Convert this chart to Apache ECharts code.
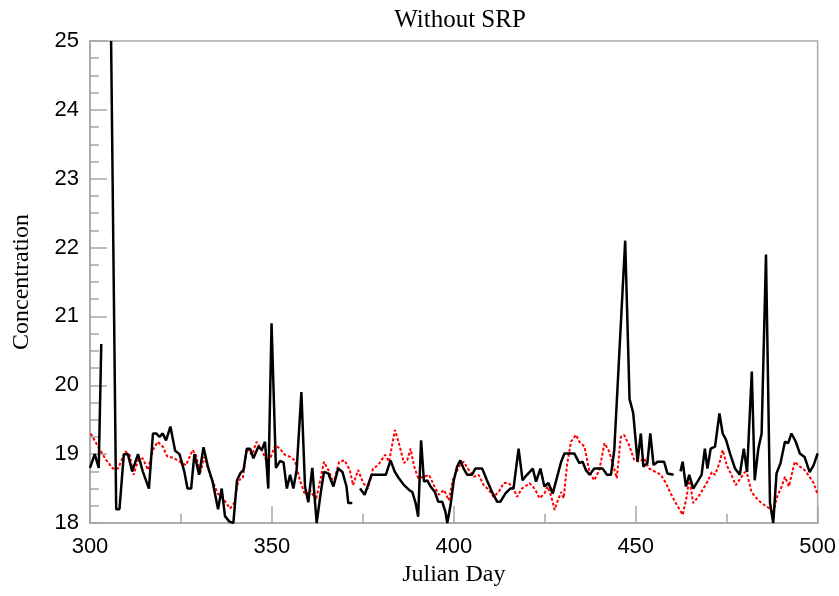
<!DOCTYPE html>
<html>
<head>
<meta charset="utf-8">
<script src="https://cdn.jsdelivr.net/npm/echarts@6/dist/echarts.min.js"></script>
<style>html,body{margin:0;padding:0;background:#fff}#c{width:839px;height:596px}</style>
</head>
<body>
<div id="c"></div>
<script>
const xTicks = [300, 350, 400, 450, 500];
const yTicks = [18, 19, 20, 21, 22, 23, 24, 25];

const blackDays = [300,301.3,302.4,303.1,304,305.8,307.2,308.1,309.3,310.4,311.6,313.2,314.5,316.2,317.3,318.2,319.1,320,320.9,322.1,323.4,324.6,325.9,326.8,327.8,328.7,330.0,331.2,332.5,333.7,335.2,336.2,337.1,338.3,339.4,340.4,341.3,342.2,343.1,344,344.9,346.3,347.2,348.1,349.0,349.9,351.1,352.2,353.2,354.1,355,355.9,356.8,358.1,359.1,360,361.1,362.3,363.4,364.3,365.5,366.9,368.2,369.4,370.5,371,372.1,373,374.2,375.5,377.4,381.3,382.6,383.8,384.9,386.3,387.7,388.6,389.5,390.2,391.0,391.8,392.7,393.6,394.8,395.7,396.8,397.7,398.2,399.1,400,400.9,401.8,402.7,403.7,405,405.9,407.8,409.1,410.5,411.9,412.8,414.2,415.5,416.4,417.8,418.9,420.1,420.8,421.7,422.6,423.8,424.9,426,427.2,428.4,429.5,430.4,433.1,434.5,435.4,436.3,437.3,438.6,440.9,442.1,443.2,444.1,447.1,448.3,449.3,450.5,451.4,452.1,453.2,454,454.9,456,457.8,458.7,460.4,461.3,462.3,462.9,463.8,464.7,465.8,467.2,468.1,469.0,469.7,470.6,471.8,473,473.9,474.8,475.9,477.3,478.6,479.7,480.6,481.9,482.7,483.7,484.6,485.8,486.9,487.8,488.7,489.8,491,491.9,492.8,494,495.1,496.4,497.8,498.9,500];
const blackVals = [18.8,19.0,18.8,20.6,null,25.0,18.2,18.2,19.0,19.0,18.75,19.0,18.75,18.5,19.3,19.3,19.25,19.3,19.2,19.4,19.05,19.0,18.75,18.5,18.5,19.0,18.7,19.1,18.8,18.6,18.2,18.5,18.1,18.02,18.0,18.62,18.72,18.77,19.08,19.08,18.94,19.11,19.06,19.18,18.5,20.9,18.8,18.9,18.88,18.5,18.7,18.5,18.77,19.9,18.53,18.3,18.8,18.0,18.43,18.74,18.72,18.53,18.79,18.74,18.53,18.29,18.29,null,18.5,18.41,18.7,18.7,18.91,18.74,18.65,18.55,18.48,18.45,18.29,18.09,19.2,18.6,18.62,18.53,18.45,18.31,18.31,18.16,18.0,18.26,18.62,18.82,18.91,18.79,18.7,18.7,18.79,18.79,18.62,18.45,18.31,18.31,18.43,18.5,18.5,19.08,18.62,18.7,18.74,18.79,18.6,18.79,18.53,18.58,18.43,18.67,18.89,19.01,19.01,18.87,18.89,18.77,18.7,18.79,18.79,18.7,18.7,19.06,22.1,19.8,19.6,18.89,19.3,18.82,18.87,19.3,18.84,18.89,18.89,18.72,18.7,null,18.75,18.89,18.53,18.7,18.5,18.62,18.7,19.08,18.79,19.08,19.11,19.59,19.3,19.21,19.01,18.79,18.7,19.08,18.74,20.2,18.62,19.08,19.3,21.9,18.29,18.0,18.72,18.87,19.18,19.16,19.3,19.18,19.01,18.96,18.74,18.84,19.01];

const redDays = [300.2,302.2,304.5,306.3,307.7,309.7,310.9,312,313.2,314.5,315.9,317.3,318.6,320,321.2,323.2,324.6,326.4,328.2,329.1,330.3,331.4,333.2,335.1,336.9,338.5,339.6,340.8,342,343.1,344.5,345.8,347.2,348.6,349.7,350.9,352.2,353.6,355,356.3,357.7,359.1,360.5,362.1,363.4,364.3,365.5,366.9,368.5,370.0,371.4,372.3,373.7,375.1,376.4,377.8,379.2,381.1,382.2,383.8,384.9,386.3,387.2,388.1,389.0,390.2,391.8,393.2,394.5,395.9,397.3,398.6,399.7,401.4,402.7,404.1,405.5,406.8,408.2,409.6,410.9,412.3,413.7,415.1,416.4,417.4,418.7,420.1,420.8,422.2,423.6,424.9,425.8,426.8,427.7,428.6,429.5,430.2,431.1,432.2,433.6,434.5,435.9,437.3,438.6,440,441.4,442.7,443.9,444.8,445.9,446.8,448.2,449.6,451,452.3,453.7,455.5,456.9,458.3,459.6,460.8,462.9,464,464.7,465.8,467.2,468.6,469.9,470.9,471.8,473,473.9,475,476.3,477.5,478.8,480,480.6,481.8,483.2,484.6,485.9,486.9,487.8,488.7,490.1,491,492.1,493.7,495.1,496.4,497.8,498.9,500];
const redVals = [19.3,19.11,18.91,18.79,18.79,19.04,18.99,18.7,18.91,18.94,18.77,19.06,19.18,19.11,18.97,18.94,18.89,18.84,19.06,18.99,18.72,18.96,18.67,18.43,18.33,18.21,18.29,18.62,18.65,19.08,18.99,19.18,19.06,18.89,18.96,19.13,19.08,18.99,18.96,18.91,18.62,18.41,18.48,18.33,18.65,18.89,18.77,18.58,18.89,18.91,18.77,18.55,18.77,18.58,18.5,18.79,18.84,18.99,18.89,19.35,19.16,18.87,18.91,19.08,18.84,18.65,18.67,18.7,18.55,18.41,18.48,18.33,18.62,18.82,18.89,18.77,18.67,18.7,18.55,18.48,18.38,18.45,18.58,18.58,18.5,18.38,18.5,18.55,18.58,18.5,18.36,18.43,18.53,18.38,18.19,18.33,18.45,18.36,18.84,19.18,19.28,19.18,19.11,18.74,18.62,18.77,19.16,19.04,18.82,18.65,19.25,19.28,19.13,18.91,18.89,18.94,18.79,18.74,18.7,18.58,18.43,18.31,18.12,18.38,18.65,18.29,18.38,18.5,18.62,18.74,18.7,18.87,19.06,18.84,18.7,18.55,18.65,18.74,18.72,18.45,18.36,18.29,18.24,18.21,18.14,18.36,18.53,18.67,18.53,18.89,18.82,18.77,18.67,18.58,18.41];

const zip = (xs, ys) => xs.map((x, i) => [x, ys[i] === null ? '-' : ys[i]]);

const grey = '#a6a6a6';
const chart = echarts.init(document.getElementById('c'));
chart.setOption({
  animation: false,
  backgroundColor: '#fff',
  title: {
    text: 'Without SRP', left: 455, top: 3, textAlign: 'center',
    textStyle: { fontFamily: 'Liberation Serif', fontSize: 25, fontWeight: 'normal', color: '#000' }
  },
  grid: { left: 90, right: 19, top: 41, bottom: 73, show: true, borderColor: grey, borderWidth: 1.5, backgroundColor: 'transparent' },
  xAxis: {
    type: 'value', min: 300, max: 500, interval: 50,
    name: 'Julian Day', nameLocation: 'middle', nameGap: 40,
    nameTextStyle: { fontFamily: 'Liberation Serif', fontSize: 24, color: '#000' },
    axisLine: { show: true, lineStyle: { color: grey, width: 1.5 } },
    axisTick: { show: true, inside: true, length: 17, lineStyle: { color: grey, width: 1.5 } },
    minorTick: { show: true, splitNumber: 2, length: 9, lineStyle: { color: grey, width: 1.5 } },
    splitLine: { show: false },
    axisLabel: { margin: 13, fontFamily: 'Liberation Sans', fontSize: 22, color: '#000',
      formatter: v => xTicks.includes(v) ? String(v) : '' }
  },
  yAxis: {
    type: 'value', min: 18, max: 25, interval: 1,
    name: 'Concentration', nameLocation: 'middle', nameGap: 56,
    nameTextStyle: { fontFamily: 'Liberation Serif', fontSize: 24, color: '#000' },
    axisLine: { show: true, lineStyle: { color: grey, width: 1.5 } },
    axisTick: { show: true, inside: true, length: 17, lineStyle: { color: grey, width: 1.5 } },
    minorTick: { show: true, splitNumber: 4, length: 9, lineStyle: { color: grey, width: 1.5 } },
    splitLine: { show: false },
    axisLabel: { margin: 11, fontFamily: 'Liberation Sans', fontSize: 22, color: '#000',
      formatter: v => yTicks.includes(v) ? String(v) : '' }
  },
  series: [
    {
      type: 'line', data: zip(redDays, redVals), showSymbol: false, symbol: 'none',
      connectNulls: false, z: 2,
      lineStyle: { color: '#ff0000', width: 2, type: [3, 2] }
    },
    {
      type: 'line', data: zip(blackDays, blackVals), showSymbol: false, symbol: 'none',
      connectNulls: false, z: 3,
      lineStyle: { color: '#000000', width: 2.5 }
    }
  ]
});
</script>
</body>
</html>
